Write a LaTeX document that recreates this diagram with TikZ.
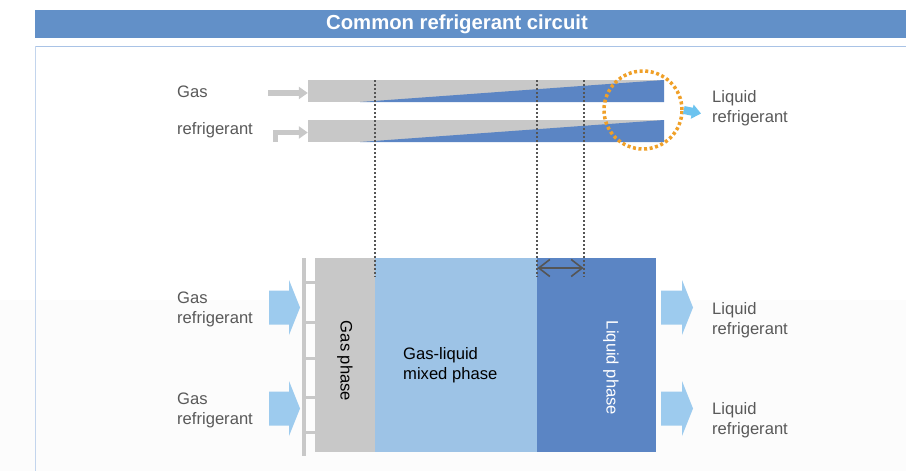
\documentclass[tikz,border=0pt]{standalone}
\usepackage{fontspec}
\setmainfont{Liberation Sans}
\usetikzlibrary{arrows.meta}
\definecolor{titlebar}{HTML}{6290C8}
\definecolor{framecol}{HTML}{A9C3E6}
\definecolor{gasgray}{HTML}{C8C8C8}
\definecolor{mixblue}{HTML}{9DC3E6}
\definecolor{liqblue}{HTML}{5B85C4}
\definecolor{flowblue}{HTML}{9DCBEE}
\definecolor{cyanarrow}{HTML}{6CC3EF}
\definecolor{ringorange}{HTML}{F0A028}
\definecolor{labeltext}{HTML}{595959}
\definecolor{dotgray}{HTML}{555555}
\tikzset{
  lbl/.style={anchor=west, inner sep=0pt, text=labeltext, font=\fontsize{16.6}{20}\selectfont, align=left},
  phase/.style={inner sep=0pt, font=\fontsize{16.6}{20}\selectfont, align=left},
  tube/.style={fill=gasgray, draw=none},
  guide/.style={draw=dotgray, line width=1.6pt, dash pattern=on 1.6pt off 2.4pt},
  feedarrow/.style={draw=gasgray, line width=5.5pt, -{Triangle[length=9pt,width=12pt]}},
}
\begin{document}
\begin{tikzpicture}[x=1pt,y=-1pt]
\useasboundingbox (0,0) rectangle (906,471);
\fill[white] (0,0) rectangle (906,471);
\fill[gray!2] (0,300) rectangle (906,471);

% title bar and frame
\fill[titlebar] (35,10) rectangle (906,38);
\node[text=white, font=\bfseries\fontsize{20.3}{22}\selectfont] (title) at (457,24) {Common refrigerant circuit};
\draw[framecol, line width=1.5pt] (35,46.5) -- (906,46.5);
\draw[framecol!70, line width=1pt] (35.5,46) -- (35.5,471);

% ---- upper part: two condensing tubes ----
\node[tube, minimum width=356pt, minimum height=22pt, inner sep=0pt] (tubeA) at (486,91) {};
\node[tube, minimum width=356pt, minimum height=22pt, inner sep=0pt] (tubeB) at (486,131) {};
\fill[liqblue] (360,102) -- (664,80) -- (664,102) -- cycle;
\fill[liqblue] (360,142) -- (664,120) -- (664,142) -- cycle;

\node[lbl] (gasA) at (177,92) {Gas};
\node[lbl] (gasB) at (177,130) {refrigerant};
\coordinate (feedA) at (268,93);
\coordinate (feedB) at (275.5,142);
\coordinate (feedBcorner) at (275.5,132.5);
\draw[feedarrow] (feedA) -- (tubeA.west|-feedA);
\draw[feedarrow] (feedB) -- (feedBcorner) -- (tubeB.west|-feedBcorner);

% outlet marking
\node[draw=ringorange, line width=3.5pt, dash pattern=on 3pt off 2.6pt, circle, minimum size=78pt, inner sep=0pt] (ring) at (643,110) {};
\coordinate (outTip) at (701,113.5);
\draw[cyanarrow, line width=8pt, -{Triangle[length=9pt,width=14pt]}] (ring.east) -- (outTip);
\node[lbl] (liqTop) at (712,108) {Liquid\\refrigerant};

% ---- lower part: heat exchanger block ----
\node[fill=gasgray, minimum width=60pt, minimum height=194pt, inner sep=0pt] (gasblk) at (345,355) {};
\node[fill=mixblue, minimum width=162pt, minimum height=194pt, inner sep=0pt] (mixblk) at (456,355) {};
\node[fill=liqblue, minimum width=119pt, minimum height=194pt, inner sep=0pt] (liqblk) at (596.5,355) {};

\node[phase, rotate=-90] (gastxt) at (345,361) {Gas phase};
\node[phase, anchor=west] (mixtxt) at (403,365) {Gas-liquid\\mixed phase};
\node[phase, rotate=-90, text=white] (liqtxt) at (611,368) {Liquid phase};

% header comb
\fill[gasgray] (301.5,258) rectangle (306,456);
\foreach \yy in {282,322,358,397,432}
  \fill[gasgray] (301.5,\yy-1.5) rectangle (315,\yy+1.5);

% dotted guides between the two parts
\coordinate (gA) at (375,80);
\coordinate (gB) at (537,80);
\coordinate (gC) at (584,80);
\draw[guide] (gA) -- (375,277);
\draw[guide] (gB) -- (537,277);
\draw[guide] (gC) -- (584,277);
\coordinate (spanL) at (537.5,268);
\coordinate (spanR) at (583.5,268);
\draw[dotgray, line width=1.6pt, {Straight Barb[length=11pt,width=17pt]}-{Straight Barb[length=11pt,width=17pt]}] (spanL) -- (spanR);

% inlet and outlet flow arrows
\foreach \cy in {307.5,408.5} {
  \fill[flowblue] (269,\cy-17) -- (289,\cy-17) -- (289,\cy-27.5) -- (300,\cy) -- (289,\cy+27.5) -- (289,\cy+17) -- (269,\cy+17) -- cycle;
  \fill[flowblue] (661,\cy-17) -- (682,\cy-17) -- (682,\cy-27.5) -- (693,\cy) -- (682,\cy+27.5) -- (682,\cy+17) -- (661,\cy+17) -- cycle;
}

\node[lbl] (gasInA) at (177,309) {Gas\\refrigerant};
\node[lbl] (gasInB) at (177,410) {Gas\\refrigerant};
\node[lbl] (liqOutA) at (712,320) {Liquid\\refrigerant};
\node[lbl] (liqOutB) at (712,420) {Liquid\\refrigerant};
\end{tikzpicture}
\end{document}
